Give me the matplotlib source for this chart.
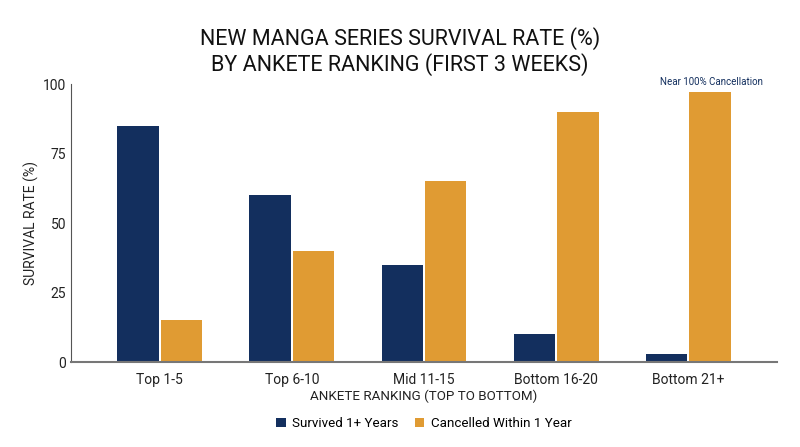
import numpy as np
import matplotlib
matplotlib.use('Agg')
import matplotlib.pyplot as plt

# Chart data
categories = ['Top 1-5', 'Top 6-10', 'Mid 11-15', 'Bottom 16-20', 'Bottom 21+']
survived = [85, 60, 35, 10, 3]
cancelled = [15, 40, 65, 90, 97]
series_names = ['Survived 1+ Years', 'Cancelled Within 1 Year']
y_ticks = [0, 25, 50, 75, 100]

navy = '#132f5e'
orange = '#e09b33'

plt.rcParams['font.family'] = ['Roboto', 'DejaVu Sans']

fig = plt.figure(figsize=(8, 4.47), dpi=100)
ax = fig.add_axes([0.089, 0.19, 0.882, 0.622])

x = np.arange(len(categories))
w = 0.315
ax.bar(x - w / 2 - 0.006, survived, w, color=navy, label=series_names[0])
ax.bar(x + w / 2 + 0.006, cancelled, w, color=orange, label=series_names[1])

ax.set_xlim(-0.67, 4.67)
ax.set_ylim(0, 100)
ax.set_yticks(y_ticks)
ax.set_xticks(x)
ax.set_xticklabels(categories)
ax.tick_params(axis='both', length=0, labelsize=10, colors='#222222')
ax.tick_params(axis='x', pad=8)

for side in ['top', 'right']:
    ax.spines[side].set_visible(False)
ax.spines['left'].set_color('#555555')
ax.spines['bottom'].set_color('#777777')
ax.spines['bottom'].set_linewidth(1.5)

ax.set_ylabel('SURVIVAL RATE (%)', fontsize=10, color='#222222', labelpad=3)
ax.set_xlabel('ANKETE RANKING (TOP TO BOTTOM)', fontsize=9.6, color='#222222', labelpad=2)

ax.annotate('Near 100% Cancellation', xy=(x[4] + w / 2, cancelled[4]),
            xytext=(2, 4), textcoords='offset points', ha='center', va='bottom',
            fontsize=7, color=navy, annotation_clip=False)

fig.text(0.5, 0.885, 'NEW MANGA SERIES SURVIVAL RATE (%)\nBY ANKETE RANKING (FIRST 3 WEEKS)',
         ha='center', va='center', fontsize=15.5, color='#111111', linespacing=1.15)

leg = ax.legend(loc='upper center', bbox_to_anchor=(0.5, -0.155), ncol=2, frameon=False,
                fontsize=9.6, handlelength=0.7, handleheight=0.7, handletextpad=0.5,
                columnspacing=1.2)

fig.savefig('out.png', dpi=100)
